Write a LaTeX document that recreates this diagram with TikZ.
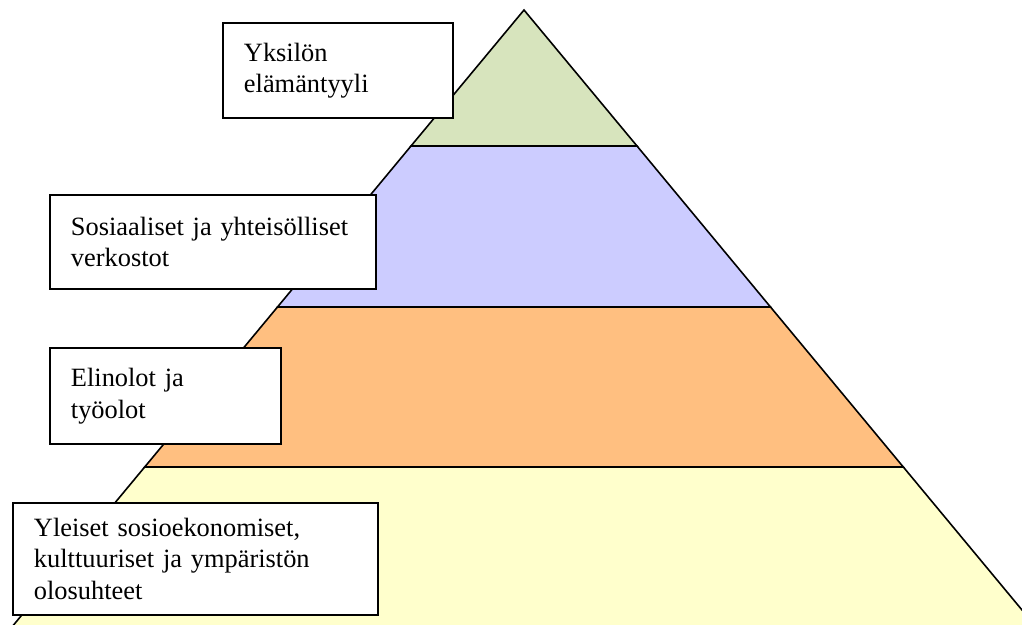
\documentclass[tikz,border=0pt]{standalone}
\usepackage{fontspec}
\setmainfont{Liberation Serif}
\usetikzlibrary{positioning,calc}
\definecolor{layerA}{RGB}{215,228,189}
\definecolor{layerB}{RGB}{204,204,255}
\definecolor{layerC}{RGB}{255,191,128}
\definecolor{layerD}{RGB}{255,255,204}

\begin{document}
\begin{tikzpicture}[
    x=1pt, y=-1pt,
    layer/.style={draw=black, line width=1.6pt, line join=miter},
    label/.style={rectangle, draw=black, line width=1.9pt, fill=white, anchor=north west,
        align=left, inner xsep=21pt, inner ysep=0pt,
        font=\fontsize{26.4}{31.5}\selectfont}
]
\useasboundingbox (0,0) rectangle (1022,624);

% Pyramid corners
\coordinate (apex) at (524,10);
\coordinate (l1) at (411,146);   \coordinate (r1) at (637,146);
\coordinate (l2) at (277.5,307); \coordinate (r2) at (770.5,307);
\coordinate (l3) at (144.7,467); \coordinate (r3) at (903.3,467);
\coordinate (l4) at (9.4,630);   \coordinate (r4) at (1038.6,630);

% Layers
\filldraw[layer, fill=layerD] (l3) -- (r3) -- (r4) -- (l4) -- cycle;
\filldraw[layer, fill=layerC] (l2) -- (r2) -- (r3) -- (l3) -- cycle;
\filldraw[layer, fill=layerB] (l1) -- (r1) -- (r2) -- (l2) -- cycle;
\filldraw[layer, fill=layerA] (apex) -- (r1) -- (l1) -- cycle;

% Labels
\node[label, text width=188pt, minimum height=95pt] (lifestyle) at (222,22)
    {Yksilön\\elämäntyyli};
\node[label, text width=284pt, minimum height=94pt] (networks) at (49,194)
    {Sosiaaliset ja yhteisölliset\\verkostot};
\node[label, text width=189pt, minimum height=96pt] (conditions) at (49,347)
    {Elinolot ja\\työolot};
\node[label, text width=323pt, minimum height=112pt] (general) at (12,502)
    {Yleiset sosioekonomiset,\\kulttuuriset ja ympäristön\\olosuhteet};

\end{tikzpicture}
\end{document}
